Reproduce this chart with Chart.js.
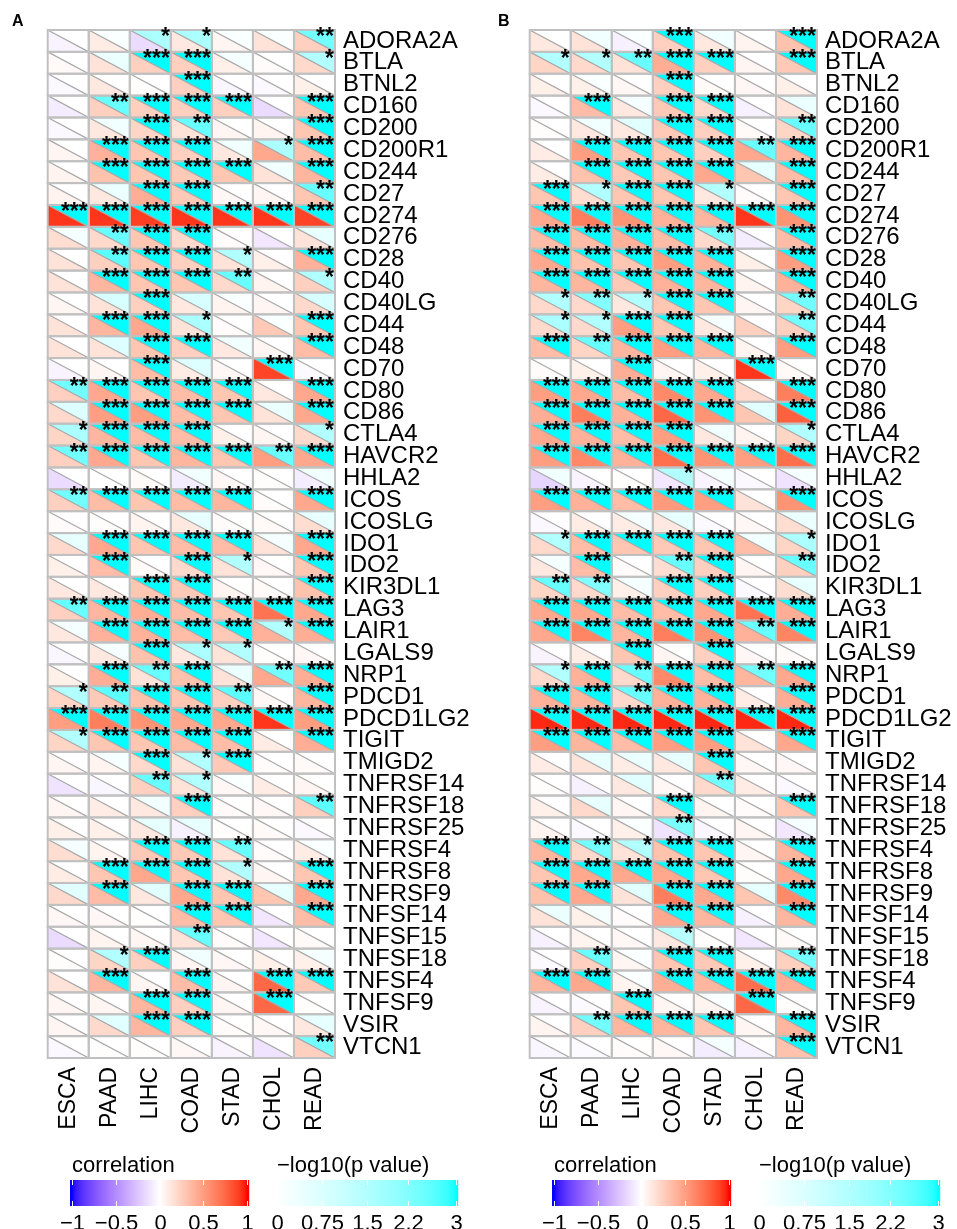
<!DOCTYPE html>
<html>
<head>
<meta charset="utf-8">
<script src="https://cdn.jsdelivr.net/npm/chart.js@4.4.1/dist/chart.umd.min.js"></script>
<style>
  html, body { margin: 0; padding: 0; background: #fff; }
  #wrap { position: relative; width: 957px; height: 1229px; overflow: hidden; }
  canvas { position: absolute; top: 0; }
  #panelA { left: 0; }
  #panelB { left: 482px; }
</style>
</head>
<body>
<div id="wrap">
  <canvas id="panelA" width="475" height="1229"></canvas>
  <canvas id="panelB" width="475" height="1229"></canvas>
</div>
<script>
/* ---- data ---- */
var cancers = ['ESCA', 'PAAD', 'LIHC', 'COAD', 'STAD', 'CHOL', 'READ'];
var genes = ['ADORA2A', 'BTLA', 'BTNL2', 'CD160', 'CD200', 'CD200R1', 'CD244', 'CD27', 'CD274', 'CD276',
  'CD28', 'CD40', 'CD40LG', 'CD44', 'CD48', 'CD70', 'CD80', 'CD86', 'CTLA4', 'HAVCR2',
  'HHLA2', 'ICOS', 'ICOSLG', 'IDO1', 'IDO2', 'KIR3DL1', 'LAG3', 'LAIR1', 'LGALS9', 'NRP1',
  'PDCD1', 'PDCD1LG2', 'TIGIT', 'TMIGD2', 'TNFRSF14', 'TNFRSF18', 'TNFRSF25', 'TNFRSF4', 'TNFRSF8', 'TNFRSF9',
  'TNFSF14', 'TNFSF15', 'TNFSF18', 'TNFSF4', 'TNFSF9', 'VSIR', 'VTCN1'];

// panel A: correlation (lower triangle) and -log10(p) (upper triangle)
var corrA = [
  [-0.05, 0.10, -0.15, 0.12, 0.05, 0.15, 0.25],
  [0.03, 0.15, 0.25, 0.25, 0.08, 0.02, 0.20],
  [-0.03, 0.12, 0.01, 0.25, -0.04, -0.03, 0.08],
  [-0.08, 0.25, 0.25, 0.25, 0.25, -0.15, 0.30],
  [-0.03, 0.12, 0.22, 0.15, 0.05, 0.06, 0.30],
  [0.05, 0.40, 0.30, 0.25, 0.12, 0.45, 0.35],
  [0.06, 0.32, 0.30, 0.28, 0.30, 0.15, 0.38],
  [0.06, 0.12, 0.42, 0.28, 0.04, 0.05, 0.30],
  [0.92, 0.92, 0.90, 0.92, 0.92, 0.92, 0.88],
  [0.18, 0.20, 0.30, 0.20, 0.02, -0.10, 0.15],
  [0.15, 0.25, 0.30, 0.25, 0.15, 0.08, 0.40],
  [0.15, 0.38, 0.30, 0.30, 0.20, 0.06, 0.25],
  [0.05, 0.15, 0.25, 0.12, 0.06, 0.05, 0.20],
  [0.15, 0.38, 0.45, 0.15, 0.02, 0.28, 0.30],
  [0.15, 0.15, 0.30, 0.25, 0.12, 0.05, 0.35],
  [-0.05, 0.05, 0.35, 0.10, 0.04, 0.88, -0.02],
  [0.25, 0.45, 0.30, 0.35, 0.30, 0.12, 0.45],
  [0.20, 0.50, 0.50, 0.35, 0.30, 0.15, 0.45],
  [0.22, 0.38, 0.35, 0.35, 0.08, 0.05, 0.20],
  [0.25, 0.45, 0.30, 0.38, 0.30, 0.50, 0.45],
  [-0.15, 0.00, 0.03, -0.08, 0.04, 0.01, -0.08],
  [0.25, 0.35, 0.30, 0.35, 0.38, 0.02, 0.45],
  [0.02, 0.01, 0.06, 0.12, 0.02, 0.03, 0.18],
  [0.20, 0.45, 0.30, 0.35, 0.35, 0.15, 0.45],
  [0.08, 0.35, 0.03, 0.20, 0.15, 0.04, 0.30],
  [0.12, 0.12, 0.30, 0.28, 0.06, 0.03, 0.32],
  [0.25, 0.38, 0.42, 0.35, 0.30, 0.70, 0.45],
  [0.12, 0.40, 0.40, 0.35, 0.28, 0.40, 0.42],
  [-0.04, 0.12, 0.32, 0.12, 0.15, 0.01, 0.04],
  [0.08, 0.42, 0.15, 0.32, 0.15, 0.45, 0.42],
  [0.22, 0.28, 0.32, 0.30, 0.25, 0.04, 0.38],
  [0.50, 0.65, 0.55, 0.45, 0.45, 0.92, 0.50],
  [0.22, 0.30, 0.30, 0.35, 0.35, 0.10, 0.42],
  [0.05, 0.06, 0.20, 0.15, 0.28, 0.02, 0.03],
  [-0.12, -0.04, 0.25, 0.15, 0.04, 0.10, 0.05],
  [0.05, 0.10, 0.12, 0.25, 0.03, 0.04, 0.25],
  [0.08, 0.08, 0.12, -0.06, 0.01, 0.03, -0.03],
  [0.18, 0.06, 0.28, 0.28, 0.15, 0.02, 0.10],
  [0.10, 0.30, 0.45, 0.30, 0.15, 0.05, 0.30],
  [0.20, 0.35, 0.12, 0.45, 0.30, 0.30, 0.45],
  [0.04, 0.04, 0.01, 0.35, 0.30, -0.10, 0.35],
  [-0.15, 0.06, 0.05, 0.15, 0.02, -0.10, 0.03],
  [0.01, 0.22, 0.25, 0.05, 0.04, 0.08, 0.08],
  [0.15, 0.38, 0.05, 0.35, 0.05, 0.75, 0.28],
  [0.05, 0.05, 0.38, 0.25, 0.05, 0.75, 0.01],
  [0.05, 0.20, 0.38, 0.25, 0.02, 0.04, 0.12],
  [-0.03, 0.01, 0.01, 0.04, -0.05, -0.12, 0.25]
];
var pvalA = [
  [0, 0.1, 1.6, 1.6, 0.1, 0.1, 2.4],
  [0, 0.4, 3, 3, 0.2, 0, 1.5],
  [0, 0, 0, 3, 0, 0, 0],
  [0, 2.5, 3, 3, 3, 0, 3],
  [0, 0.3, 3, 2.5, 0, 0, 3],
  [0, 3, 3, 3, 0.3, 1.6, 3],
  [0, 3, 3, 3, 3, 0.3, 3],
  [0, 0.4, 3, 3, 0, 0, 2.5],
  [3, 3, 3, 3, 3, 3, 3],
  [0.2, 2.5, 3, 3, 0, 0, 0.5],
  [0, 2.6, 3, 3, 1.5, 0, 3],
  [0, 3, 3, 3, 2.5, 0, 1.5],
  [0, 0.8, 3, 0.8, 0.1, 0, 0.8],
  [0, 3, 3, 1.6, 0, 0.1, 3],
  [0, 0.7, 3, 3, 0.3, 0, 3],
  [0, 0, 3, 0.7, 0, 3, 0],
  [2.4, 3, 3, 3, 3, 0, 3],
  [0.7, 3, 3, 3, 3, 0.4, 3],
  [1.6, 3, 3, 3, 0, 0, 1.5],
  [2.4, 3, 3, 3, 3, 2.5, 3],
  [0, 0, 0, 0.3, 0, 0, 0.3],
  [2.4, 3, 3, 3, 3, 0, 3],
  [0, 0, 0, 0.5, 0, 0, 0.5],
  [0.5, 3, 3, 3, 3, 0.2, 3],
  [0, 3, 0, 3, 1.5, 0, 3],
  [0, 0, 3, 3, 0, 0, 3],
  [2.5, 3, 3, 3, 3, 3, 3],
  [0.2, 3, 3, 3, 3, 1.5, 3],
  [0, 0.2, 3, 1.6, 1.5, 0, 0],
  [0, 3, 2.5, 3, 0.4, 2.4, 3],
  [1.5, 2.6, 3, 3, 2.6, 0, 3],
  [3, 3, 3, 3, 3, 3, 3],
  [1.5, 3, 3, 3, 3, 0, 3],
  [0, 0.2, 3, 1.5, 3, 0, 0],
  [0, 0, 2.5, 1.5, 0.1, 0, 0],
  [0, 0, 0.3, 3, 0, 0, 2.6],
  [0, 0, 0.5, 0.5, 0, 0, 0],
  [0.2, 0, 3, 3, 2.5, 0, 0.1],
  [0, 3, 3, 3, 1.5, 0, 3],
  [0.6, 3, 0.6, 3, 3, 0.5, 3],
  [0, 0, 0, 3, 3, 0, 3],
  [0, 0, 0, 2.5, 0, 0, 0],
  [0, 1.5, 3, 0.3, 0, 0, 0.2],
  [0, 3, 0, 3, 0, 3, 3],
  [0, 0, 3, 3, 0, 3, 0],
  [0, 0.6, 3, 3, 0, 0, 0.5],
  [0, 0, 0, 0, 0, 0, 2.4]
];

// panel B
var corrB = [
  [0.12, 0.15, -0.06, 0.25, 0.12, 0.06, 0.32],
  [0.22, 0.20, 0.15, 0.42, 0.25, 0.05, 0.28],
  [0.08, 0.08, 0.04, 0.25, 0.03, 0.04, 0.08],
  [-0.03, 0.35, 0.12, 0.28, 0.20, -0.06, 0.15],
  [0.01, 0.12, 0.12, 0.28, 0.25, 0.03, 0.22],
  [0.10, 0.50, 0.30, 0.30, 0.25, 0.45, 0.38],
  [0.10, 0.32, 0.28, 0.30, 0.45, 0.30, 0.35],
  [0.30, 0.18, 0.30, 0.30, 0.12, 0.02, 0.30],
  [0.45, 0.65, 0.55, 0.40, 0.38, 0.92, 0.55],
  [0.35, 0.35, 0.40, 0.35, 0.20, -0.08, 0.35],
  [0.45, 0.32, 0.30, 0.50, 0.40, 0.08, 0.50],
  [0.38, 0.38, 0.28, 0.40, 0.38, 0.06, 0.40],
  [0.20, 0.20, 0.12, 0.30, 0.30, 0.05, 0.22],
  [0.20, 0.20, 0.50, 0.30, 0.12, 0.25, 0.25],
  [0.35, 0.22, 0.38, 0.50, 0.38, 0.06, 0.50],
  [0.02, 0.08, 0.42, 0.05, 0.08, 0.92, 0.03],
  [0.50, 0.45, 0.35, 0.60, 0.45, 0.20, 0.65],
  [0.42, 0.65, 0.40, 0.75, 0.55, 0.30, 0.78],
  [0.45, 0.40, 0.35, 0.50, 0.12, 0.06, 0.22],
  [0.50, 0.60, 0.40, 0.72, 0.55, 0.50, 0.72],
  [-0.18, -0.05, 0.01, -0.10, -0.05, -0.03, -0.12],
  [0.50, 0.40, 0.35, 0.52, 0.50, 0.15, 0.55],
  [-0.03, 0.10, 0.10, 0.12, -0.02, 0.04, 0.18],
  [0.20, 0.35, 0.30, 0.28, 0.30, 0.35, 0.22],
  [0.12, 0.35, 0.02, 0.18, 0.25, 0.05, 0.25],
  [0.22, 0.20, 0.08, 0.25, 0.25, -0.03, 0.18],
  [0.45, 0.45, 0.35, 0.35, 0.45, 0.70, 0.42],
  [0.45, 0.62, 0.38, 0.65, 0.55, 0.40, 0.62],
  [-0.05, 0.10, 0.30, 0.05, 0.25, 0.04, 0.02],
  [0.20, 0.40, 0.20, 0.60, 0.35, 0.38, 0.45],
  [0.40, 0.38, 0.20, 0.40, 0.40, 0.10, 0.42],
  [0.95, 0.95, 0.95, 0.95, 0.95, 0.95, 0.95],
  [0.50, 0.38, 0.35, 0.50, 0.50, 0.15, 0.45],
  [0.10, 0.15, 0.10, 0.12, 0.30, 0.04, 0.04],
  [0.01, -0.06, 0.12, 0.04, 0.20, 0.10, -0.03],
  [0.08, 0.20, 0.05, 0.20, 0.06, 0.02, 0.30],
  [0.06, -0.03, 0.08, -0.12, -0.04, 0.05, -0.10],
  [0.38, 0.20, 0.15, 0.32, 0.30, 0.05, 0.38],
  [0.30, 0.45, 0.45, 0.45, 0.30, 0.01, 0.45],
  [0.32, 0.45, 0.15, 0.65, 0.45, 0.30, 0.60],
  [0.15, 0.08, 0.02, 0.45, 0.38, -0.06, 0.38],
  [-0.06, 0.06, 0.04, 0.12, 0.01, -0.10, 0.03],
  [-0.02, 0.25, 0.05, 0.30, 0.28, 0.08, 0.25],
  [0.38, 0.45, 0.06, 0.42, 0.38, 0.72, 0.42],
  [-0.05, -0.02, 0.30, 0.05, 0.06, 0.75, 0.01],
  [0.06, 0.25, 0.38, 0.38, 0.30, 0.05, 0.38],
  [-0.04, -0.02, 0.02, 0.04, -0.08, -0.06, 0.32]
];
var pvalB = [
  [0, 0.3, 0.1, 3, 0.3, 0, 3],
  [1.5, 1.5, 2.5, 3, 3, 0, 3],
  [0, 0.1, 0, 3, 0, 0, 0],
  [0, 3, 0.2, 3, 3, 0, 0.4],
  [0, 0.3, 0.6, 3, 3, 0, 2.5],
  [0, 3, 3, 3, 3, 2.5, 3],
  [0, 3, 3, 3, 3, 0.5, 3],
  [3, 1.5, 3, 3, 1.5, 0, 3],
  [3, 3, 3, 3, 3, 3, 3],
  [3, 3, 3, 3, 2.4, 0, 3],
  [3, 3, 3, 3, 3, 0, 3],
  [3, 3, 3, 3, 3, 0, 3],
  [1.5, 2.2, 1.5, 3, 3, 0, 2.4],
  [1.6, 1.5, 3, 3, 0.2, 0, 2.4],
  [3, 2.5, 3, 3, 3, 0, 3],
  [0, 0, 3, 0, 0, 3, 0],
  [3, 3, 3, 3, 3, 0, 3],
  [3, 3, 3, 3, 3, 0.6, 3],
  [3, 3, 3, 3, 0.3, 0, 1.5],
  [3, 3, 3, 3, 3, 3, 3],
  [0.3, 0, 0, 1.5, 0.2, 0, 0.2],
  [3, 3, 3, 3, 3, 0, 3],
  [0, 0, 0.2, 0.5, 0, 0, 0.4],
  [1.5, 3, 3, 3, 3, 0.3, 1.6],
  [0.2, 3, 0, 2.5, 3, 0, 2.5],
  [2.5, 2.2, 0.2, 3, 3, 0, 0.5],
  [3, 3, 3, 3, 3, 3, 3],
  [3, 3, 3, 3, 3, 2.5, 3],
  [0, 0, 3, 0, 3, 0, 0],
  [1.5, 3, 2.5, 3, 3, 2.4, 3],
  [3, 3, 2.5, 3, 3, 0, 3],
  [3, 3, 3, 3, 3, 3, 3],
  [3, 3, 3, 3, 3, 0, 3],
  [0, 0.5, 0.4, 0.5, 3, 0, 0],
  [0, 0, 0.6, 0, 2.4, 0, 0],
  [0, 0.5, 0, 3, 0, 0, 3],
  [0, 0, 0.1, 2.3, 0, 0, 0.2],
  [3, 2.4, 1.5, 3, 3, 0, 3],
  [3, 3, 3, 3, 3, 0, 3],
  [3, 3, 0.6, 3, 3, 0.5, 3],
  [0.4, 0.2, 0, 3, 3, 0, 3],
  [0, 0, 0, 1.4, 0, 0, 0],
  [0, 2.5, 0.1, 3, 3, 0, 2.4],
  [3, 3, 0.1, 3, 3, 3, 3],
  [0, 0, 3, 0, 0.1, 3, 0],
  [0, 2.4, 3, 3, 3, 0, 3],
  [0, 0, 0, 0, 0.2, 0, 3]
];

var corrTicks = [-1, -0.5, 0, 0.5, 1];
var pTicks = [0, 0.75, 1.5, 2.2, 3];

var FONT = '"Liberation Sans", Arial, Helvetica, sans-serif';

/* ---- colour ramps (interpolated in Lab) ---- */
function toLab(rgb) {
  var lin = rgb.map(function(c) { c /= 255; return c <= 0.04045 ? c / 12.92 : Math.pow((c + 0.055) / 1.055, 2.4); });
  var X = (0.4124 * lin[0] + 0.3576 * lin[1] + 0.1805 * lin[2]) / 0.95047;
  var Y = 0.2126 * lin[0] + 0.7152 * lin[1] + 0.0722 * lin[2];
  var Z = (0.0193 * lin[0] + 0.1192 * lin[1] + 0.9505 * lin[2]) / 1.08883;
  var f = function(t) { return t > 0.008856 ? Math.cbrt(t) : 7.787 * t + 16 / 116; };
  var fx = f(X), fy = f(Y), fz = f(Z);
  return [116 * fy - 16, 500 * (fx - fy), 200 * (fy - fz)];
}
function fromLab(lab) {
  var fy = (lab[0] + 16) / 116, fx = fy + lab[1] / 500, fz = fy - lab[2] / 200;
  var g = function(t) { return t * t * t > 0.008856 ? t * t * t : (t - 16 / 116) / 7.787; };
  var X = g(fx) * 0.95047, Y = g(fy), Z = g(fz) * 1.08883;
  var r = 3.2406 * X - 1.5372 * Y - 0.4986 * Z;
  var gg = -0.9689 * X + 1.8758 * Y + 0.0415 * Z;
  var b = 0.0557 * X - 0.2040 * Y + 1.0570 * Z;
  var enc = function(c) {
    c = Math.min(1, Math.max(0, c));
    c = c <= 0.0031308 ? 12.92 * c : 1.055 * Math.pow(c, 1 / 2.4) - 0.055;
    return Math.round(c * 255);
  };
  return 'rgb(' + enc(r) + ',' + enc(gg) + ',' + enc(b) + ')';
}
function makeRamp(breaks, colors) {
  var labs = colors.map(toLab);
  return function(v) {
    v = Math.min(breaks[breaks.length - 1], Math.max(breaks[0], v));
    var i = 0;
    while (i < breaks.length - 2 && v > breaks[i + 1]) i++;
    var t = (v - breaks[i]) / (breaks[i + 1] - breaks[i]);
    return fromLab(labs[i].map(function(c, k) { return c + (labs[i + 1][k] - c) * t; }));
  };
}
var corrColor = makeRamp([-1, 0, 1], [[0, 0, 255], [255, 255, 255], [255, 0, 0]]);
var pColor = makeRamp([0, 3], [[255, 255, 255], [0, 255, 255]]);

function stars(p) {
  if (p >= 3) return '***';
  if (p >= 2) return '**';
  if (p >= 1.3) return '*';
  return '';
}

function buildCells(corr, pval) {
  var out = [];
  genes.forEach(function(g, i) {
    cancers.forEach(function(c, j) {
      out.push({ x: c, y: g, r: corr[i][j], p: pval[i][j] });
    });
  });
  return out;
}

/* ---- cell drawing: lower-left = correlation, upper-right = -log10(p) ---- */
var splitCells = {
  id: 'splitCells',
  afterDatasetsDraw: function(chart) {
    var ctx = chart.ctx;
    var xs = chart.scales.x, ys = chart.scales.y;
    var w = Math.abs(xs.getPixelForValue(1) - xs.getPixelForValue(0));
    var h = Math.abs(ys.getPixelForValue(1) - ys.getPixelForValue(0));
    var pts = chart.getDatasetMeta(0).data;
    var cells = chart.data.datasets[0].data;
    ctx.save();
    pts.forEach(function(pt, i) {
      var c = cells[i];
      var l = pt.x - w / 2, r = pt.x + w / 2, t = pt.y - h / 2, b = pt.y + h / 2;
      ctx.fillStyle = corrColor(c.r);
      ctx.beginPath(); ctx.moveTo(l, t); ctx.lineTo(l, b); ctx.lineTo(r, b); ctx.closePath(); ctx.fill();
      ctx.fillStyle = pColor(c.p);
      ctx.beginPath(); ctx.moveTo(l, t); ctx.lineTo(r, t); ctx.lineTo(r, b); ctx.closePath(); ctx.fill();
    });
    // diagonals
    ctx.strokeStyle = '#a8a8a8';
    ctx.lineWidth = 1.2;
    pts.forEach(function(pt) {
      ctx.beginPath();
      ctx.moveTo(pt.x - w / 2, pt.y - h / 2);
      ctx.lineTo(pt.x + w / 2, pt.y + h / 2);
      ctx.stroke();
    });
    // cell borders
    ctx.strokeStyle = '#c0c0c0';
    ctx.lineWidth = 2;
    pts.forEach(function(pt) {
      ctx.strokeRect(pt.x - w / 2, pt.y - h / 2, w, h);
    });
    // significance stars
    ctx.fillStyle = '#000';
    ctx.font = 'bold 23px ' + FONT;
    ctx.textAlign = 'right';
    ctx.textBaseline = 'alphabetic';
    pts.forEach(function(pt, i) {
      var s = stars(cells[i].p);
      if (s) ctx.fillText(s, pt.x + w / 2 - 1, pt.y - h / 2 + 14);
    });
    ctx.restore();
  },
  afterDraw: function(chart, args, opts) {
    var ctx = chart.ctx;
    ctx.save();
    // panel letter
    ctx.fillStyle = '#000';
    ctx.font = 'bold 16px ' + FONT;
    ctx.textAlign = 'left';
    ctx.textBaseline = 'alphabetic';
    ctx.fillText(opts.letter, opts.letterX, 26);
    drawBar(ctx, 'correlation', 70, 249, 72, 247, corrTicks, corrColor, function(v) { return v < 0 ? '\u2212' + Math.abs(v) : String(v); });
    drawBar(ctx, '\u2212log10(p value)', 275, 458, 277, 456, pTicks, pColor, function(v) { return String(v); });
    ctx.restore();
  }
};

function drawBar(ctx, title, x0, x1, t0, t1, ticks, colorFn, fmt) {
  var y0 = 1180, y1 = 1206;
  var vmin = ticks[0], vmax = ticks[ticks.length - 1];
  for (var px = x0; px < x1; px++) {
    var v = vmin + (px + 0.5 - t0) / (t1 - t0) * (vmax - vmin);
    ctx.fillStyle = colorFn(v);
    ctx.fillRect(px, y0, 1.2, y1 - y0);
  }
  ctx.strokeStyle = '#fff';
  ctx.lineWidth = 1;
  ctx.fillStyle = '#000';
  ctx.font = '22px ' + FONT;
  ctx.textAlign = 'center';
  ticks.forEach(function(v) {
    var x = Math.round(t0 + (v - vmin) / (vmax - vmin) * (t1 - t0)) + 0.5;
    ctx.beginPath();
    ctx.moveTo(x, y0); ctx.lineTo(x, y0 + 5);
    ctx.moveTo(x, y1 - 5); ctx.lineTo(x, y1);
    ctx.stroke();
    ctx.fillText(fmt(v), x, 1230);
  });
  ctx.textAlign = 'left';
  ctx.fillText(title, x0 + 2, 1172);
}

function makePanel(id, letter, letterX, corr, pval) {
  return new Chart(document.getElementById(id), {
    type: 'scatter',
    data: {
      datasets: [{
        data: buildCells(corr, pval),
        pointRadius: 0,
        pointHoverRadius: 0,
        showLine: false
      }]
    },
    options: {
      responsive: false,
      animation: false,
      events: [],
      layout: { autoPadding: false, padding: { left: 47.7, top: 30, right: 0, bottom: 91 } },
      plugins: {
        legend: { display: false },
        tooltip: { enabled: false },
        splitCells: { letter: letter, letterX: letterX }
      },
      scales: {
        x: {
          type: 'category',
          labels: cancers,
          offset: true,
          position: 'bottom',
          grid: { display: false, drawTicks: false },
          border: { display: false },
          ticks: {
            autoSkip: false,
            minRotation: 90,
            maxRotation: 90,
            padding: 9,
            color: '#000',
            font: { family: FONT, size: 23 }
          },
          afterFit: function(s) { s.height = 80; }
        },
        y: {
          type: 'category',
          labels: genes,
          offset: true,
          position: 'right',
          grid: { display: false, drawTicks: false },
          border: { display: false },
          ticks: {
            autoSkip: false,
            padding: 8,
            color: '#000',
            font: { family: FONT, size: 24 }
          },
          afterFit: function(s) { s.width = 140; }
        }
      }
    },
    plugins: [splitCells]
  });
}

makePanel('panelA', 'A', 12, corrA, pvalA);
makePanel('panelB', 'B', 16, corrB, pvalB);
</script>
</body>
</html>
